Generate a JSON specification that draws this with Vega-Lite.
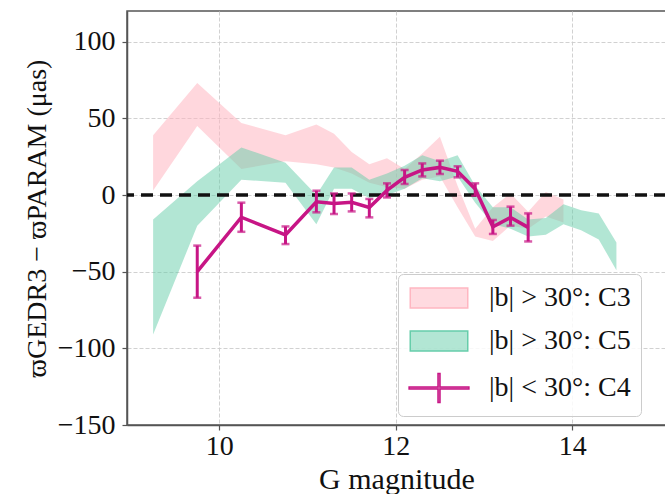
{
  "$schema": "https://vega.github.io/schema/vega-lite/v6.json",
  "width": 539,
  "height": 414,
  "autosize": {"type": "none"},
  "padding": {"left": 127, "top": 11, "right": 0, "bottom": 69},
  "background": "white",
  "datasets": {
    "c3": [
      {"G": 9.25, "lo": 3, "hi": 39, "series": "|b| > 30°: C3"},
      {"G": 9.75, "lo": 45, "hi": 73, "series": "|b| > 30°: C3"},
      {"G": 10.25, "lo": 17, "hi": 47, "series": "|b| > 30°: C3"},
      {"G": 10.75, "lo": 22, "hi": 39, "series": "|b| > 30°: C3"},
      {"G": 11.1, "lo": 20, "hi": 46, "series": "|b| > 30°: C3"},
      {"G": 11.3, "lo": 18, "hi": 40, "series": "|b| > 30°: C3"},
      {"G": 11.5, "lo": 14, "hi": 28, "series": "|b| > 30°: C3"},
      {"G": 11.7, "lo": 8, "hi": 20, "series": "|b| > 30°: C3"},
      {"G": 11.9, "lo": 5, "hi": 24, "series": "|b| > 30°: C3"},
      {"G": 12.1, "lo": 4, "hi": 17, "series": "|b| > 30°: C3"},
      {"G": 12.3, "lo": 10, "hi": 27, "series": "|b| > 30°: C3"},
      {"G": 12.5, "lo": 12, "hi": 38, "series": "|b| > 30°: C3"},
      {"G": 12.7, "lo": -8, "hi": 6, "series": "|b| > 30°: C3"},
      {"G": 12.9, "lo": -27, "hi": -22, "series": "|b| > 30°: C3"},
      {"G": 13.1, "lo": -30, "hi": -8, "series": "|b| > 30°: C3"},
      {"G": 13.3, "lo": -20, "hi": 1, "series": "|b| > 30°: C3"},
      {"G": 13.5, "lo": -22, "hi": -11, "series": "|b| > 30°: C3"},
      {"G": 13.7, "lo": -14, "hi": 2, "series": "|b| > 30°: C3"},
      {"G": 13.9, "lo": -18, "hi": -3, "series": "|b| > 30°: C3"}
    ],
    "c5": [
      {"G": 9.25, "lo": -91, "hi": -16, "series": "|b| > 30°: C5"},
      {"G": 9.75, "lo": -20, "hi": 9, "series": "|b| > 30°: C5"},
      {"G": 10.25, "lo": 10, "hi": 31, "series": "|b| > 30°: C5"},
      {"G": 10.75, "lo": 8, "hi": 21, "series": "|b| > 30°: C5"},
      {"G": 11.1, "lo": -19, "hi": 0, "series": "|b| > 30°: C5"},
      {"G": 11.3, "lo": 4, "hi": 18, "series": "|b| > 30°: C5"},
      {"G": 11.5, "lo": 4, "hi": 18, "series": "|b| > 30°: C5"},
      {"G": 11.7, "lo": -2, "hi": 10, "series": "|b| > 30°: C5"},
      {"G": 11.9, "lo": 0, "hi": 14, "series": "|b| > 30°: C5"},
      {"G": 12.1, "lo": 4, "hi": 19, "series": "|b| > 30°: C5"},
      {"G": 12.3, "lo": 11, "hi": 26, "series": "|b| > 30°: C5"},
      {"G": 12.5, "lo": 9, "hi": 22, "series": "|b| > 30°: C5"},
      {"G": 12.7, "lo": 12, "hi": 26, "series": "|b| > 30°: C5"},
      {"G": 12.9, "lo": -5, "hi": 6, "series": "|b| > 30°: C5"},
      {"G": 13.1, "lo": -19, "hi": -8, "series": "|b| > 30°: C5"},
      {"G": 13.3, "lo": -22, "hi": -8, "series": "|b| > 30°: C5"},
      {"G": 13.5, "lo": -27, "hi": -16, "series": "|b| > 30°: C5"},
      {"G": 13.7, "lo": -26, "hi": -15, "series": "|b| > 30°: C5"},
      {"G": 13.9, "lo": -19, "hi": -6, "series": "|b| > 30°: C5"},
      {"G": 14.1, "lo": -23, "hi": -10, "series": "|b| > 30°: C5"},
      {"G": 14.3, "lo": -29, "hi": -12, "series": "|b| > 30°: C5"},
      {"G": 14.5, "lo": -49, "hi": -31, "series": "|b| > 30°: C5"}
    ],
    "c4": [
      {"G": 9.75, "val": -50, "lo": -67, "hi": -33, "series": "|b| < 30°: C4"},
      {"G": 10.25, "val": -14.5, "lo": -24, "hi": -5, "series": "|b| < 30°: C4"},
      {"G": 10.75, "val": -26, "lo": -32, "hi": -20.5, "series": "|b| < 30°: C4"},
      {"G": 11.1, "val": -4.4, "lo": -11.3, "hi": 2.8, "series": "|b| < 30°: C4"},
      {"G": 11.3, "val": -5.5, "lo": -12.4, "hi": 1, "series": "|b| < 30°: C4"},
      {"G": 11.5, "val": -4.8, "lo": -10.7, "hi": 1, "series": "|b| < 30°: C4"},
      {"G": 11.7, "val": -8.1, "lo": -14.6, "hi": -2.6, "series": "|b| < 30°: C4"},
      {"G": 11.9, "val": 3, "lo": -1.6, "hi": 7.6, "series": "|b| < 30°: C4"},
      {"G": 12.1, "val": 11.5, "lo": 7.2, "hi": 16.3, "series": "|b| < 30°: C4"},
      {"G": 12.3, "val": 16.3, "lo": 12.1, "hi": 20.6, "series": "|b| < 30°: C4"},
      {"G": 12.5, "val": 18, "lo": 13.7, "hi": 22.4, "series": "|b| < 30°: C4"},
      {"G": 12.7, "val": 15.4, "lo": 11.5, "hi": 18.7, "series": "|b| < 30°: C4"},
      {"G": 12.9, "val": 3.9, "lo": -0.5, "hi": 7.6, "series": "|b| < 30°: C4"},
      {"G": 13.1, "val": -20.7, "lo": -25.4, "hi": -16.3, "series": "|b| < 30°: C4"},
      {"G": 13.3, "val": -14.6, "lo": -20, "hi": -7.6, "series": "|b| < 30°: C4"},
      {"G": 13.5, "val": -21.1, "lo": -30.3, "hi": -12, "series": "|b| < 30°: C4"}
    ],
    "zero": [{"y": 0}]
  },
  "config": {
    "font": "Liberation Serif",
    "view": {"stroke": "#555555", "strokeWidth": 1.5},
    "axis": {
      "zindex": 1,
      "domainColor": "#555555",
      "domainWidth": 1.5,
      "tickColor": "#555555",
      "tickWidth": 1.2,
      "tickSize": 5,
      "labelFont": "Liberation Serif",
      "labelFontSize": 28,
      "labelColor": "#111111",
      "titleFont": "Liberation Serif",
      "titleFontSize": 28,
      "titleFontWeight": "normal",
      "titleColor": "#111111",
      "grid": true,
      "gridColor": "#cccccc",
      "gridDash": [4, 2],
      "gridWidth": 0.9
    }
  },
  "layer": [
    {
      "data": {"name": "c3"},
      "mark": {"type": "area", "opacity": 0.55},
      "encoding": {
        "x": {"field": "G", "type": "quantitative",
              "scale": {"domain": [8.954, 15.062], "nice": false, "zero": false},
              "axis": {"values": [10, 12, 14], "format": "d", "title": "G magnitude", "labelPadding": 2, "titlePadding": 4, "titleFontSize": 30}},
        "y": {"field": "hi", "type": "quantitative",
              "scale": {"domain": [-150, 120], "nice": false, "zero": false},
              "axis": {"values": [-150, -100, -50, 0, 50, 100], "format": "d", "title": "ϖGEDR3 − ϖPARAM (μas)", "labelPadding": 7, "titlePadding": 6}},
        "y2": {"field": "lo"},
        "color": {"field": "series", "type": "nominal",
                  "scale": {"domain": ["|b| > 30°: C3", "|b| > 30°: C5", "|b| < 30°: C4"],
                            "range": ["#FFB6C1", "#66CDAA", "#C71585"]}}
      }
    },
    {
      "data": {"name": "c5"},
      "mark": {"type": "area", "opacity": 0.5},
      "encoding": {
        "x": {"field": "G", "type": "quantitative"},
        "y": {"field": "hi", "type": "quantitative"},
        "y2": {"field": "lo"},
        "color": {"field": "series", "type": "nominal"}
      }
    },
    {
      "data": {"name": "zero"},
      "mark": {"type": "rule", "color": "#111111", "strokeWidth": 3.5, "strokeDash": [12, 7]},
      "encoding": {"y": {"field": "y", "type": "quantitative"}}
    },
    {
      "data": {"name": "c4"},
      "mark": {"type": "line", "strokeWidth": 3.5},
      "encoding": {
        "x": {"field": "G", "type": "quantitative"},
        "y": {"field": "val", "type": "quantitative"},
        "color": {"field": "series", "type": "nominal",
                  "legend": {
                    "title": null, "orient": "none", "legendX": 271, "legendY": 263,
                    "fillColor": "rgba(255,255,255,0.85)", "strokeColor": "#cccccc", "cornerRadius": 5,
                    "padding": 10, "labelFont": "Liberation Serif", "labelFontSize": 28, "labelColor": "#111111",
                    "labelLimit": 400, "symbolSize": 529, "symbolOffset": 17, "labelOffset": 36, "rowPadding": 15,
                    "encode": {
                      "symbols": {
                        "update": {
                          "shape": {"signal": "indexof(datum.value,'C4')>=0 ? 'M-2.6,-0.087H-0.087V-1.26H0.087V-0.087H2.6V0.087H0.087V1.26H-0.087V0.087H-2.6Z' : 'M-2.5,-0.87H2.5V0.87H-2.5Z'"},
                          "fillOpacity": {"value": 0.5},
                          "strokeOpacity": {"value": 1},
                          "strokeWidth": {"value": 1.5},
                          "opacity": {"value": 1}
                        }
                      }
                    }
                  }}
      }
    },
    {
      "data": {"name": "c4"},
      "mark": {"type": "rule", "color": "#C71585", "strokeWidth": 3},
      "encoding": {
        "x": {"field": "G", "type": "quantitative"},
        "y": {"field": "lo", "type": "quantitative"},
        "y2": {"field": "hi"}
      }
    },
    {
      "data": {"name": "c4"},
      "mark": {"type": "tick", "orient": "horizontal", "size": 8, "thickness": 2.5, "color": "#C71585"},
      "encoding": {
        "x": {"field": "G", "type": "quantitative"},
        "y": {"field": "lo", "type": "quantitative"}
      }
    },
    {
      "data": {"name": "c4"},
      "mark": {"type": "tick", "orient": "horizontal", "size": 8, "thickness": 2.5, "color": "#C71585"},
      "encoding": {
        "x": {"field": "G", "type": "quantitative"},
        "y": {"field": "hi", "type": "quantitative"}
      }
    }
  ]
}
